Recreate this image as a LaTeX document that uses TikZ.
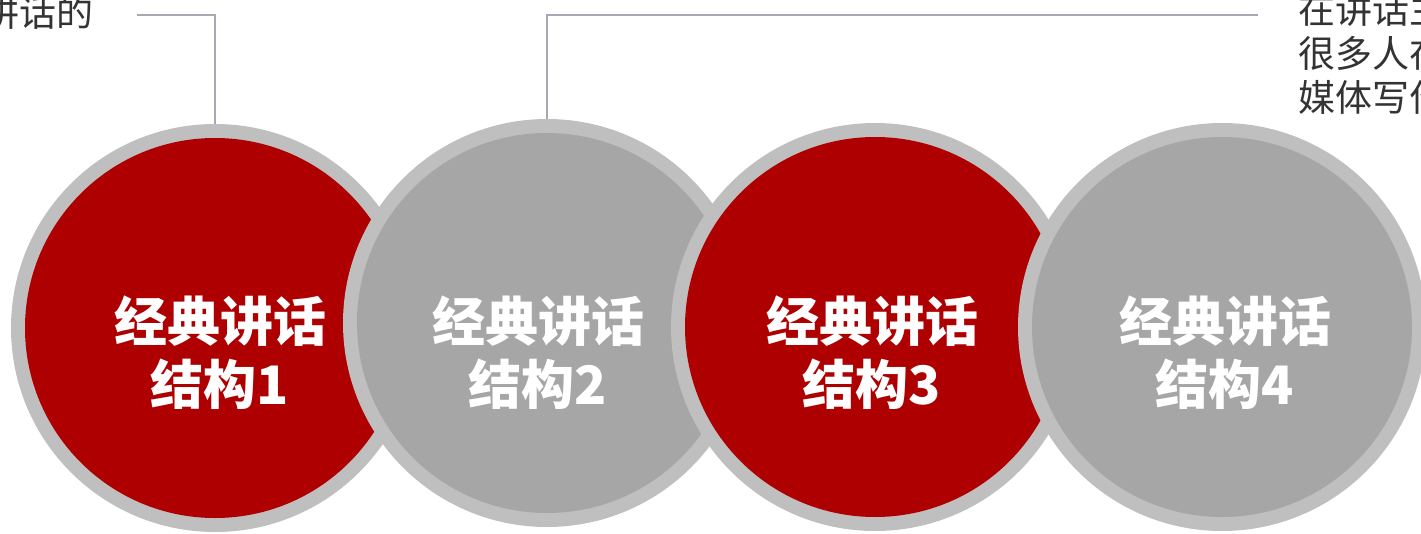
\documentclass[tikz,border=0pt]{standalone}
\usepackage{fontspec}
\newfontfamily\cjk{Noto Sans CJK SC}
\definecolor{ringgray}{HTML}{BFBFBF}
\definecolor{innergray}{HTML}{A6A6A6}
\definecolor{darkred}{HTML}{AE0000}
\definecolor{linegray}{HTML}{A8A8B4}
\definecolor{txt}{HTML}{333333}
\begin{document}
\begin{tikzpicture}[x=1pt,y=-1pt,
  ring/.style={circle, fill=ringgray, minimum size=408pt, inner sep=0pt},
  reddisc/.style={circle, fill=darkred, minimum size=380pt, inner sep=0pt},
  graydisc/.style={circle, fill=innergray, minimum size=380pt, inner sep=0pt},
  label/.style={text=white, align=center, inner sep=0pt, font=\cjk\bfseries\fontsize{53}{63}\selectfont},
  note/.style={text=txt, align=left, inner sep=0pt, font=\cjk\fontsize{37}{44}\selectfont},
  conn/.style={draw=linegray, line width=1.6pt}]
\useasboundingbox (0,0) rectangle (1421,533);
\clip (0,0) rectangle (1421,533);
% circle 1
\node[ring] (c1o) at (215,328) {};
\node[reddisc] (c1) at (215,328) {};
% circle 2
\node[ring] (c2o) at (547,323) {};
\node[graydisc] (c2) at (547,323) {};
% circle 3
\node[ring] (c3o) at (875,327) {};
\node[reddisc] (c3) at (875,327) {};
% circle 4
\node[ring] (c4o) at (1222,327) {};
\node[graydisc] (c4) at (1222,327) {};
% labels
\node[label] (l1) at (220,353) {经典讲话\\结构1};
\node[label] (l2) at (538,353) {经典讲话\\结构2};
\node[label] (l3) at (872,353) {经典讲话\\结构3};
\node[label] (l4) at (1225,353) {经典讲话\\结构4};
% notes
\node[note, anchor=east] (n1) at (94,12) {讲话的};
\node[note, anchor=west] (n2) at (1298,53) {在讲话主\\很多人在\\媒体写作};
% connectors
\coordinate (k1) at (137,15);
\coordinate (k2) at (1258,15);
\draw[conn] (k1) -| (c1o.north);
\draw[conn] (c2o.north) |- (k2);
\end{tikzpicture}
\end{document}
